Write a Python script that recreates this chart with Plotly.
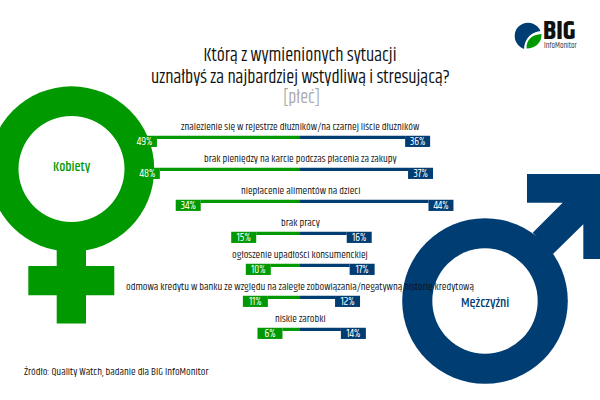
import plotly.graph_objects as go

# ── Data ──────────────────────────────────────────────────────────────────────
categories = [
    "znalezienie się w rejestrze dłużników/na czarnej liście dłużników",
    "brak pieniędzy na karcie podczas płacenia za zakupy",
    "niepłacenie alimentów na dzieci",
    "brak pracy",
    "ogłoszenie upadłości konsumenckiej",
    "odmowa kredytu w banku ze względu na zaległe zobowiązania/negatywną historię kredytową",
    "niskie zarobki",
]
kobiety = [49, 48, 34, 15, 10, 11, 6]
mezczyzni = [36, 37, 44, 16, 17, 12, 14]

# ── Config ────────────────────────────────────────────────────────────────────
W, H = 600, 400
GREEN = "#009900"
BLUE = "#003D73"
FONT = "Khand, Lato, sans-serif"
PX_PER_PCT = 2.92
ROW_PX = 32
BOX = 25 / PX_PER_PCT  # the label box sits past the end of the bar


def px(x):
    return x / W


def py(y):
    return 1 - y / H


def circle(cx, cy, r, color):
    return dict(type="circle", xref="paper", yref="paper", layer="below",
                x0=px(cx - r), x1=px(cx + r), y0=py(cy + r), y1=py(cy - r),
                fillcolor=color, line=dict(width=0))


def rect(x0, y0, x1, y1, color):
    return dict(type="rect", xref="paper", yref="paper", layer="below",
                x0=px(x0), x1=px(x1), y0=py(y1), y1=py(y0),
                fillcolor=color, line=dict(width=0))


def poly(points, color):
    path = "M " + " L ".join(f"{px(x):.4f},{py(y):.4f}" for x, y in points) + " Z"
    return dict(type="path", xref="paper", yref="paper", layer="below", path=path,
                fillcolor=color, line=dict(width=0))


def curve(path_px, color):
    # path given as tokens in pixels, so the logo is easier to tune
    out = []
    for tok in path_px.split():
        if "," in tok:
            x, y = tok.split(",")
            out.append(f"{px(float(x)):.4f},{py(float(y)):.4f}")
        else:
            out.append(tok)
    return dict(type="path", xref="paper", yref="paper", layer="below", path=" ".join(out),
                fillcolor=color, line=dict(width=0))


# ── Bars ──────────────────────────────────────────────────────────────────────
fig = go.Figure()

for values, sign, color in [(kobiety, -1, GREEN), (mezczyzni, 1, BLUE)]:
    # thin bar
    fig.add_trace(go.Bar(
        y=categories, x=[sign * v for v in values], orientation="h",
        width=0.1, offset=-0.17, marker=dict(color=color, line=dict(width=0)),
        showlegend=False,
    ))
    # label box at the end of it
    fig.add_trace(go.Bar(
        y=categories, x=[sign * BOX] * len(values), base=[sign * v for v in values],
        orientation="h", width=0.35, offset=-0.17,
        marker=dict(color=color, line=dict(width=0)),
        text=[f"{v}%" for v in values], textposition="inside", insidetextanchor="middle",
        textangle=0, constraintext="none",
        insidetextfont=dict(family=FONT, size=11, color="white"),
        showlegend=False,
    ))

# ── Symbols and logo ──────────────────────────────────────────────────────────
shapes = [
    # female
    rect(56.7, 240, 86, 323.5, GREEN),
    rect(28.3, 266, 114.3, 295.3, GREEN),
    circle(71.5, 169, 82.7, GREEN),
    circle(71.5, 169, 53, "white"),
    # male
    poly([(527, 174), (600, 174), (600, 259), (583.3, 259), (583.3, 224.3),
          (552.7, 254.3), (532.7, 232.7), (562.7, 202.7), (527, 202.7)], BLUE),
    circle(485, 301, 82.8, BLUE),
    circle(485, 301, 52.7, "white"),
    # logo
    circle(528, 36, 13.3, BLUE),
    curve("M 524,50 C 524,38 532,31 543,31 L 543,50 Z", "white"),
    curve("M 526.5,48.5 C 526,40 532,34.5 541.5,34 C 542,42 536,48.5 526.5,48.5 Z", GREEN),
]

# ── Texts ─────────────────────────────────────────────────────────────────────
annotations = [
    dict(x=0, y=cat, xref="x", yref="y", yshift=14, text=cat, showarrow=False,
         font=dict(family=FONT, size=10.6, color="#111111"))
    for cat in categories
]


def note(x, y, text, size, color, anchor="center", weight=None):
    return dict(x=px(x), y=py(y), xref="paper", yref="paper", text=text, showarrow=False,
                xanchor=anchor, yanchor="middle",
                font=dict(family=FONT, size=size, color=color, weight=weight))


annotations += [
    # second title line on its own, Khand's line height is too tall for a <br>
    note(300.5, 78, "uznałbyś za najbardziej wstydliwą i stresującą?", 18.3, "#111111"),
    note(301, 98, "[płeć]", 18, "#AAAAAA"),
    note(71.5, 167, "Kobiety", 13.8, GREEN, weight=500),
    note(484.5, 303, "Mężczyźni", 13.8, BLUE, weight=500),
    note(22, 372, "Źródło: Quality Watch, badanie dla BIG InfoMonitor", 10.6, "#111111", "left"),
    note(541, 31.5, "BIG", 27, "#111111", "left", "bold"),
    note(542, 45.5, "InfoMonitor", 8, "#333333", "left"),
]

# ── Layout ────────────────────────────────────────────────────────────────────
fig.update_layout(
    width=W, height=H,
    margin=dict(l=0, r=0, t=0, b=0, pad=0),
    paper_bgcolor="white", plot_bgcolor="rgba(0,0,0,0)",
    barmode="overlay",
    title=dict(
        text="Którą z wymienionych sytuacji",
        x=0.5, xanchor="center", y=1 - 55 / H, yanchor="middle",
        font=dict(family=FONT, size=18.3, color="#111111"),
    ),
    xaxis=dict(range=[-W / 2 / PX_PER_PCT, W / 2 / PX_PER_PCT], visible=False, fixedrange=True),
    yaxis=dict(type="category", categoryorder="array", categoryarray=categories,
               range=[(H - 141.2) / ROW_PX, -141.2 / ROW_PX], visible=False, fixedrange=True),
    shapes=shapes,
    annotations=annotations,
)

# page has a default 8px body margin, the reference fills the window edge to edge
fig.write_html("out.html", config=dict(displayModeBar=False),
               post_script="document.body.style.margin='0';")
